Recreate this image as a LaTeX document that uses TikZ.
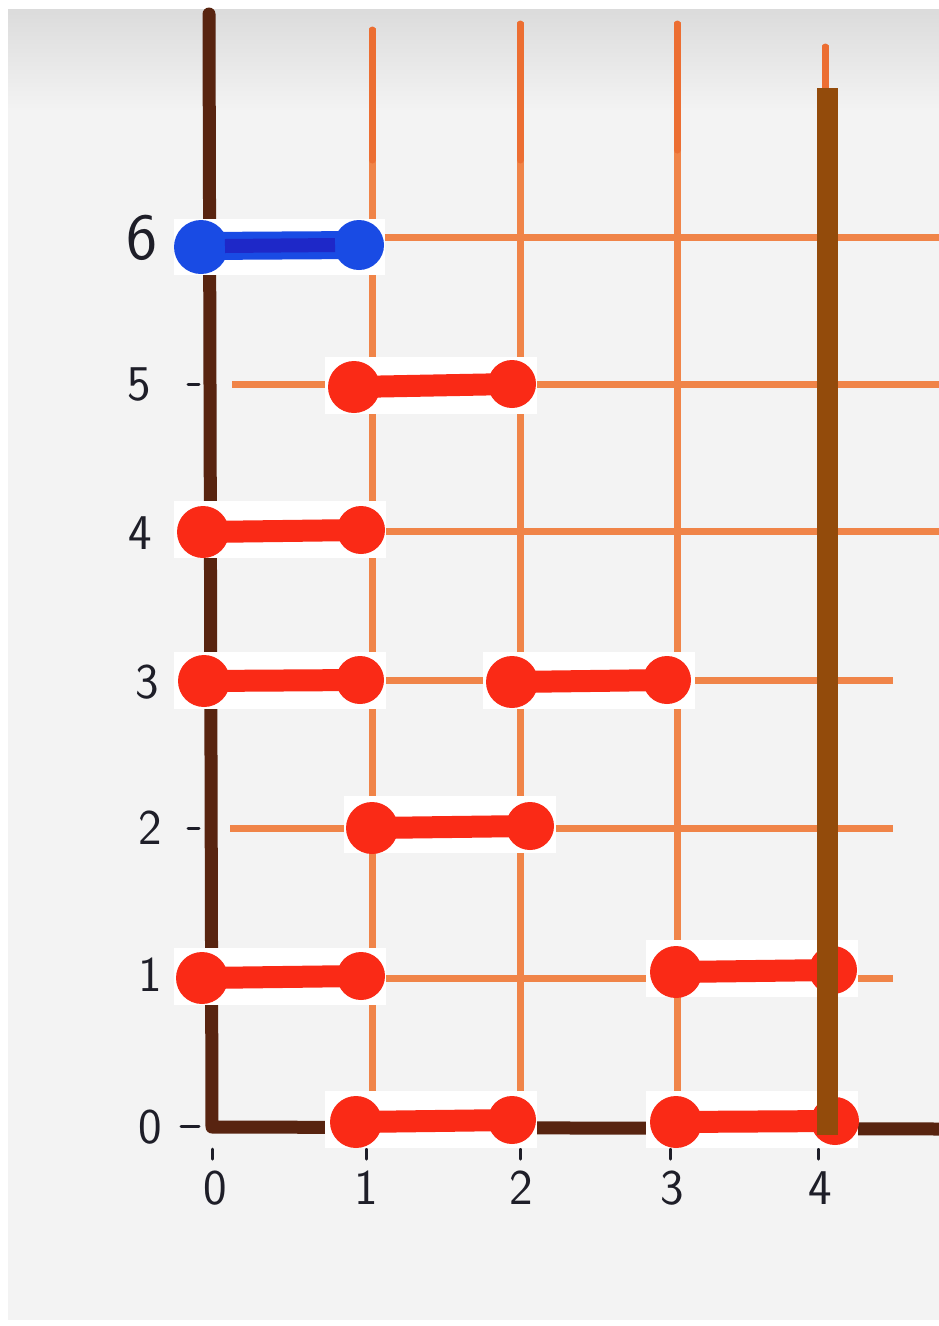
\documentclass[tikz,border=0pt]{standalone}
\usepackage{fontspec}
\begin{document}
\begin{tikzpicture}[x=1pt,y=-1pt,
  gridline/.style={draw=gridorange,line width=7pt},
  gridtop/.style={draw=gridorangedark,line width=7pt,line cap=round},
  axisline/.style={draw=axisbrown,line width=13pt,line cap=round,line join=round},
  tickmark/.style={draw=inkblack,line width=3pt,line cap=round},
  lbl/.style={text=inkblack,font=\sffamily\fontsize{50}{50}\selectfont,inner sep=0pt},
  patch/.style={fill=white,draw=none},
  redbar/.style={draw=segred,line width=22pt},
  bluebar/.style={draw=segblue,line width=28pt},
]
\definecolor{gridorange}{RGB}{240,132,72}
\definecolor{gridorangedark}{RGB}{236,110,50}
\definecolor{axisbrown}{RGB}{88,36,16}
\definecolor{inkblack}{RGB}{30,30,40}
\definecolor{segred}{RGB}{250,42,22}
\definecolor{segblue}{RGB}{25,75,228}
\definecolor{segbluedark}{RGB}{30,40,200}
\definecolor{barbrown}{RGB}{147,75,11}
\definecolor{paper}{RGB}{243,243,243}
\useasboundingbox (0,0) rectangle (939,1326);
\fill[white] (0,0) rectangle (939,1326);
\fill[paper] (8,9) rectangle (939,1320);
\shade[top color=black!14,bottom color=paper] (8,9) rectangle (939,110);
% vertical grid lines
\draw[gridline] (372,28) -- (372,1127);
\draw[gridline] (520,22) -- (520,1127);
\draw[gridline] (677,22) -- (677,1127);
\draw[gridline] (825,45) -- (825,1127);
\draw[gridtop] (372,30) -- (372,160);
\draw[gridtop] (520,24) -- (520,160);
\draw[gridtop] (677,24) -- (677,150);
\draw[gridtop] (825,47) -- (825,90);
% horizontal grid lines
\draw[gridline] (212,237) -- (939,237);
\draw[gridline] (232,384) -- (939,384);
\draw[gridline] (212,531) -- (939,531);
\draw[gridline] (212,680) -- (893,680);
\draw[gridline] (230,828) -- (893,828);
\draw[gridline] (212,978) -- (893,978);
% axes
\draw[axisline] (209,14) -- (212,1127) -- (939,1129);
% ticks
\draw[tickmark] (188,384) -- (199,384);
\draw[tickmark] (188,828) -- (199,828);
\draw[tickmark] (181,1126) -- (199,1126);
\foreach \xx in {212,366,520,670,818} \draw[tickmark] (\xx,1149) -- (\xx,1159);
% labels
\node[lbl,font=\sffamily\fontsize{66}{66}\selectfont] (l6) at (142,238) {6};
\node[lbl] (l5) at (139,384) {5};
\node[lbl] (l4) at (140,533) {4};
\node[lbl] (l3) at (147,682) {3};
\node[lbl] (l2) at (150,828) {2};
\node[lbl] (l1) at (150,975) {1};
\node[lbl] (l0) at (150,1127) {0};
\node[lbl] (x0) at (215,1188) {0};
\node[lbl] (x1) at (366,1188) {1};
\node[lbl] (x2) at (521,1188) {2};
\node[lbl] (x3) at (672,1188) {3};
\node[lbl] (x4) at (820,1188) {4};
% blue segment
\fill[patch] (174,219) rectangle (385,275);
\draw[bluebar] (202,246) -- (360,245);
\fill[segblue] (201,247) circle (27);
\fill[segblue] (359,245) circle (25);
\draw[segbluedark,line width=14pt] (225,246) -- (335,245);
% red segments: rect-left, rect-top, left center, right center
\foreach \rx/\ry/\ax/\ay/\bx/\by in {
  325/357/354/387/512/384,
  174/501/203/532/361/530,
  174/652/204/681/360/680,
  483/652/512/682/667/680,
  344/796/372/828/530/826,
  174/948/202/978/361/976,
  646/940/676/972/833/970,
  325/1091/356/1122/512/1120,
  646/1091/676/1122/835/1121}{
  \fill[patch] (\rx,\ry) rectangle ++(212,57);
  \draw[redbar] (\ax,\ay) -- (\bx,\by);
  \fill[segred] (\ax,\ay) circle (26);
  \fill[segred] (\bx,\by) circle (24);
}
% brown bar
\fill[barbrown] (817,88) rectangle (838,1135);
\end{tikzpicture}
\end{document}
